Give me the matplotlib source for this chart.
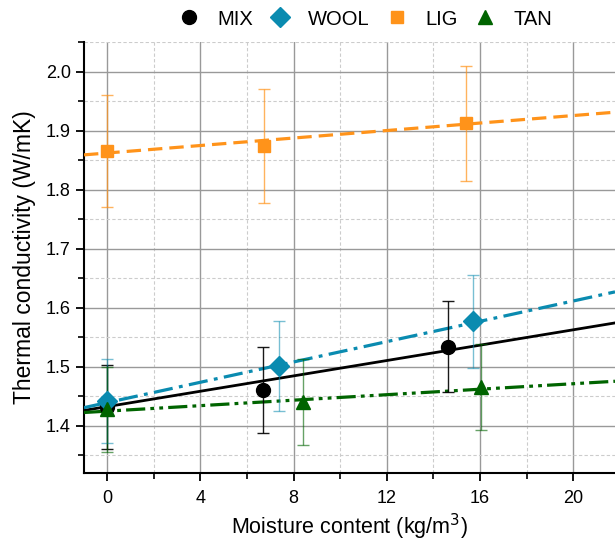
import numpy as np
import matplotlib
matplotlib.use('Agg')
import matplotlib.pyplot as plt
from matplotlib.lines import Line2D
from matplotlib.ticker import MultipleLocator

plt.rcParams['font.family'] = ['Liberation Sans', 'DejaVu Sans']

series = ['MIX', 'WOOL', 'LIG', 'TAN']
colors = ['#000000', '#0a8bb0', '#ff931a', '#006400']
markers = ['o', 'D', 's', '^']
msizes = [10, 10, 9, 10]

# moisture content (kg/m3), conductivity (W/mK), error
mix_x = [0.0, 6.7, 14.65]
mix_y = [1.432, 1.461, 1.534]
mix_err = [0.071, 0.073, 0.077]

wool_x = [0.0, 7.36, 15.71]
wool_y = [1.442, 1.501, 1.577]
wool_err = [0.071, 0.076, 0.079]

lig_x = [0.0, 6.71, 15.42]
lig_y = [1.865, 1.874, 1.912]
lig_err = [0.095, 0.096, 0.097]

tan_x = [0.0, 8.4, 16.04]
tan_y = [1.428, 1.440, 1.466]
tan_err = [0.072, 0.073, 0.073]

# linear fits: intercept, slope
fit_b = [1.4325, 1.4393, 1.862, 1.4248]
fit_m = [0.0065, 0.0086, 0.00317, 0.00232]

xs = [mix_x, wool_x, lig_x, tan_x]
ys = [mix_y, wool_y, lig_y, tan_y]
errs = [mix_err, wool_err, lig_err, tan_err]
dashes = [None, (6, 2, 1.2, 2), (4.5, 2.2), (6, 1.6, 1.2, 1.6, 1.2, 1.6)]
lws = [2.0, 2.3, 2.3, 2.3]
err_alpha = [0.9, 0.55, 0.7, 0.6]

fig = plt.figure(figsize=(6.15, 5.44), dpi=100)
ax = fig.add_axes([0.1366, 0.1305, 0.8634, 0.7923])

xmin, xmax = -1, 21.8
xl = np.array([xmin, xmax])
for i in range(4):
    line, = ax.plot(xl, fit_b[i] + fit_m[i] * xl, color=colors[i], lw=lws[i], zorder=3)
    if dashes[i] is not None:
        line.set_dashes(dashes[i])
    ax.errorbar(xs[i], ys[i], yerr=errs[i], fmt='none', ecolor=colors[i],
                elinewidth=1, capsize=4, capthick=1, alpha=err_alpha[i], zorder=4)
    ax.plot(xs[i], ys[i], linestyle='none', marker=markers[i], ms=msizes[i],
            color=colors[i], mec=colors[i], zorder=5)

ax.set_xlim(xmin, xmax)
ax.set_ylim(1.32, 2.05)
ax.xaxis.set_major_locator(MultipleLocator(4))
ax.xaxis.set_minor_locator(MultipleLocator(2))
ax.yaxis.set_major_locator(MultipleLocator(0.1))
ax.yaxis.set_minor_locator(MultipleLocator(0.05))
ax.yaxis.set_major_formatter(matplotlib.ticker.FormatStrFormatter('%.1f'))

ax.grid(which='major', color='#999999', lw=1.0, ls='-')
ax.grid(which='minor', color='#cccccc', lw=0.8, ls=(0, (3, 2)))
ax.set_axisbelow(True)

for s in ['top', 'right']:
    ax.spines[s].set_visible(False)
for s in ['left', 'bottom']:
    ax.spines[s].set_linewidth(1.5)

ax.tick_params(which='major', direction='out', length=6, width=1.3, labelsize=13)
ax.tick_params(axis='x', which='major', pad=6)
ax.tick_params(which='minor', direction='out', length=4, width=1.2)

ax.set_xlabel('Moisture content (kg/m$^3$)', fontsize=15.5, labelpad=4)
ax.set_ylabel('Thermal conductivity (W/mK)', fontsize=16.5, labelpad=7)

handles = [Line2D([], [], linestyle='none', marker=markers[i], ms=msizes[i],
                  color=colors[i]) for i in range(4)]
fig.legend(handles, series, loc='center', bbox_to_anchor=(0.594, 0.965), ncol=4,
           frameon=False, fontsize=14.5, handlelength=1.0, handletextpad=0.9,
           columnspacing=0.85)

fig.savefig('out.png', dpi=100)
